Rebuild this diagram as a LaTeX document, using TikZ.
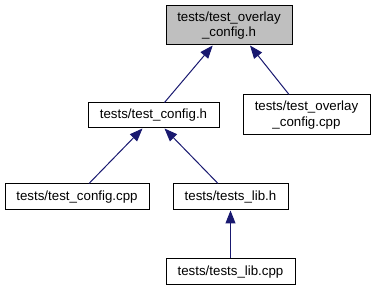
\documentclass[tikz,border=0pt]{standalone}
\usepackage{fontspec}
\setmainfont{Liberation Sans}
\usetikzlibrary{arrows.meta}
\definecolor{edgeblue}{RGB}{25,25,112}
\definecolor{curfill}{RGB}{191,191,191}
\tikzset{
  filebox/.style={draw=black, line width=1pt, fill=white, inner sep=0pt,
    align=center, font=\fontsize{13.3}{15.5}\selectfont},
  dep/.style={draw=edgeblue, line width=1pt,
    -{Triangle[length=13pt,width=10pt,fill=edgeblue]}}
}
\begin{document}
\begin{tikzpicture}[x=1pt,y=-1pt]
  \useasboundingbox (0,0) rectangle (375,291);
  % include graph nodes
  \node[filebox, fill=curfill, minimum width=126pt, minimum height=39pt] (top) at (229,25.5) {tests/test\_overlay\\\_config.h};
  \node[filebox, minimum width=131pt, minimum height=25pt] (tch) at (153.5,115.5) {tests/test\_config.h};
  \node[filebox, minimum width=127pt, minimum height=40pt] (ovl) at (306.5,115) {tests/test\_overlay\\\_config.cpp};
  \node[filebox, minimum width=144pt, minimum height=26pt] (tcc) at (77,197) {tests/test\_config.cpp};
  \node[filebox, minimum width=115pt, minimum height=26pt] (libh) at (230.5,197) {tests/tests\_lib.h};
  \node[filebox, minimum width=129pt, minimum height=26pt] (libc) at (230.5,272) {tests/tests\_lib.cpp};
  % dependency edges
  \draw[dep] ([xshift=11pt]tch.north) -- ([xshift=-16.3pt]top.south);
  \draw[dep] ([xshift=-17.5pt]ovl.north) -- ([xshift=21pt]top.south);
  \draw[dep] ([xshift=12pt]tcc.north) -- ([xshift=-11pt]tch.south);
  \draw[dep] ([xshift=-12.5pt]libh.north) -- ([xshift=11pt]tch.south);
  \draw[dep] (libc.north) -- (libh.south);
\end{tikzpicture}
\end{document}
